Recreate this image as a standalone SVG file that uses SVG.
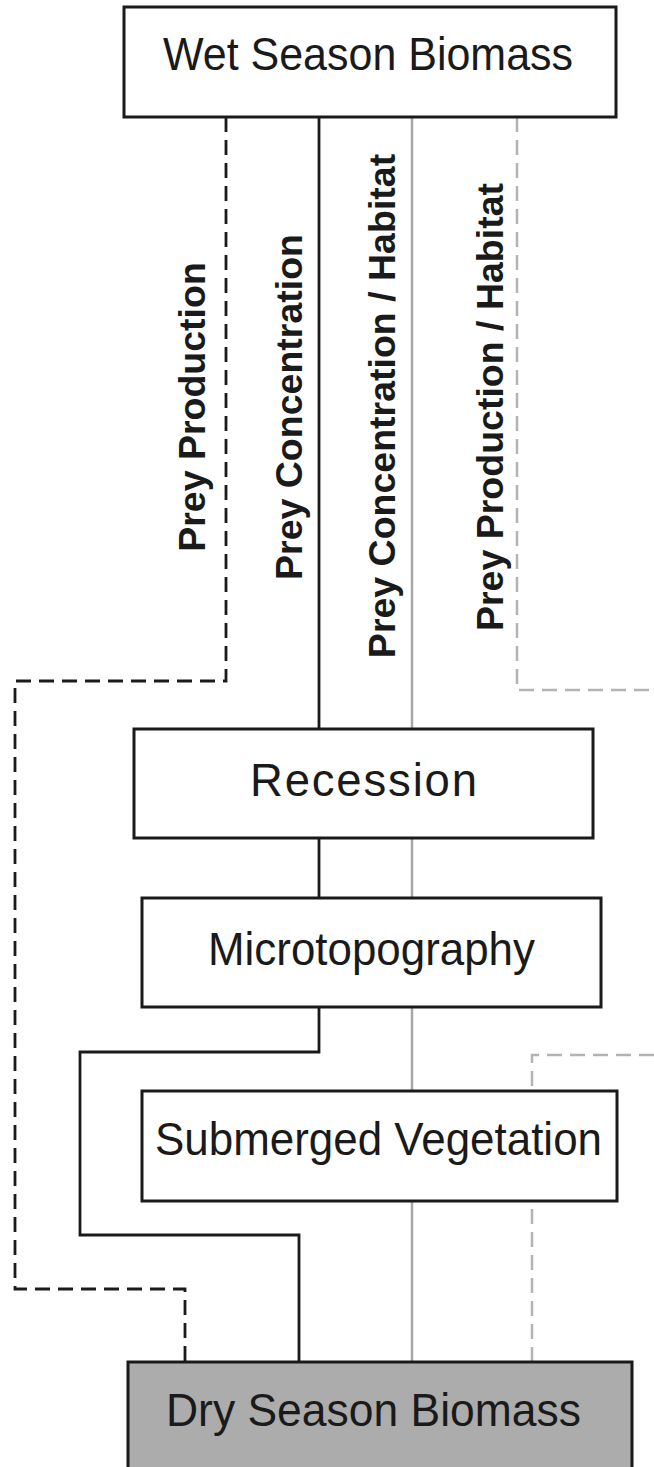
<svg xmlns="http://www.w3.org/2000/svg" width="654" height="1467" viewBox="0 0 654 1467">
<style>
.box{fill:#ffffff;stroke:#1a1a1a;stroke-width:3}
.dry{fill:#acacac;stroke:#1a1a1a;stroke-width:3}
.lbl{font-family:"Liberation Sans",Arial,sans-serif;font-size:45.5px;fill:#1a1a1a;text-anchor:middle}
.rot{font-family:"Liberation Sans",Arial,sans-serif;font-size:37.5px;font-weight:bold;fill:#1a1a1a;text-anchor:middle}
.c{fill:none;stroke-linejoin:miter;stroke-linecap:butt}
.blk{stroke:#1a1a1a;stroke-width:2.8}
.gry{stroke:#a8a8a8;stroke-width:2.5}
.dash{stroke-dasharray:15 8}
</style>
<g id="connectors">
<path class="c blk dash" d="M226,117 V681 H15 V1289 H185 V1362"/>
<path class="c blk" d="M319,117 V729 M319,838 V898 M319,1007 V1052 H80 V1235 H299 V1362"/>
<path class="c gry" d="M412,117 V1362"/>
<path class="c gry dash" style="stroke:#b3b3b3" d="M517,117 V690 H654 M654,1055 H532 V1362"/>
</g>
<g id="edge-labels">
<text class="rot" transform="translate(205,407) rotate(-90)">Prey Production</text>
<text class="rot" transform="translate(302,407) rotate(-90)">Prey Concentration</text>
<text class="rot" transform="translate(395,406) rotate(-90)">Prey Concentration / Habitat</text>
<text class="rot" transform="translate(503,407) rotate(-90)">Prey Production / Habitat</text>
</g>
<g id="wet">
<rect class="box" x="124" y="7" width="492" height="110"/>
<text class="lbl" x="368" y="70" textLength="410" lengthAdjust="spacingAndGlyphs">Wet Season Biomass</text>
</g>
<g id="recession">
<rect class="box" x="134" y="729" width="459" height="109"/>
<text class="lbl" x="363.5" y="796" textLength="227" lengthAdjust="spacing">Recession</text>
</g>
<g id="microtopography">
<rect class="box" x="142" y="898" width="459" height="109"/>
<text class="lbl" x="371.5" y="965" textLength="327" lengthAdjust="spacingAndGlyphs">Microtopography</text>
</g>
<g id="submerged">
<rect class="box" x="142" y="1091" width="475" height="110"/>
<text class="lbl" x="378.5" y="1155" textLength="447" lengthAdjust="spacingAndGlyphs">Submerged Vegetation</text>
</g>
<g id="dry">
<rect class="dry" x="128" y="1362" width="504" height="120"/>
<text class="lbl" x="373.5" y="1426" textLength="415" lengthAdjust="spacingAndGlyphs">Dry Season Biomass</text>
</g>
</svg>
